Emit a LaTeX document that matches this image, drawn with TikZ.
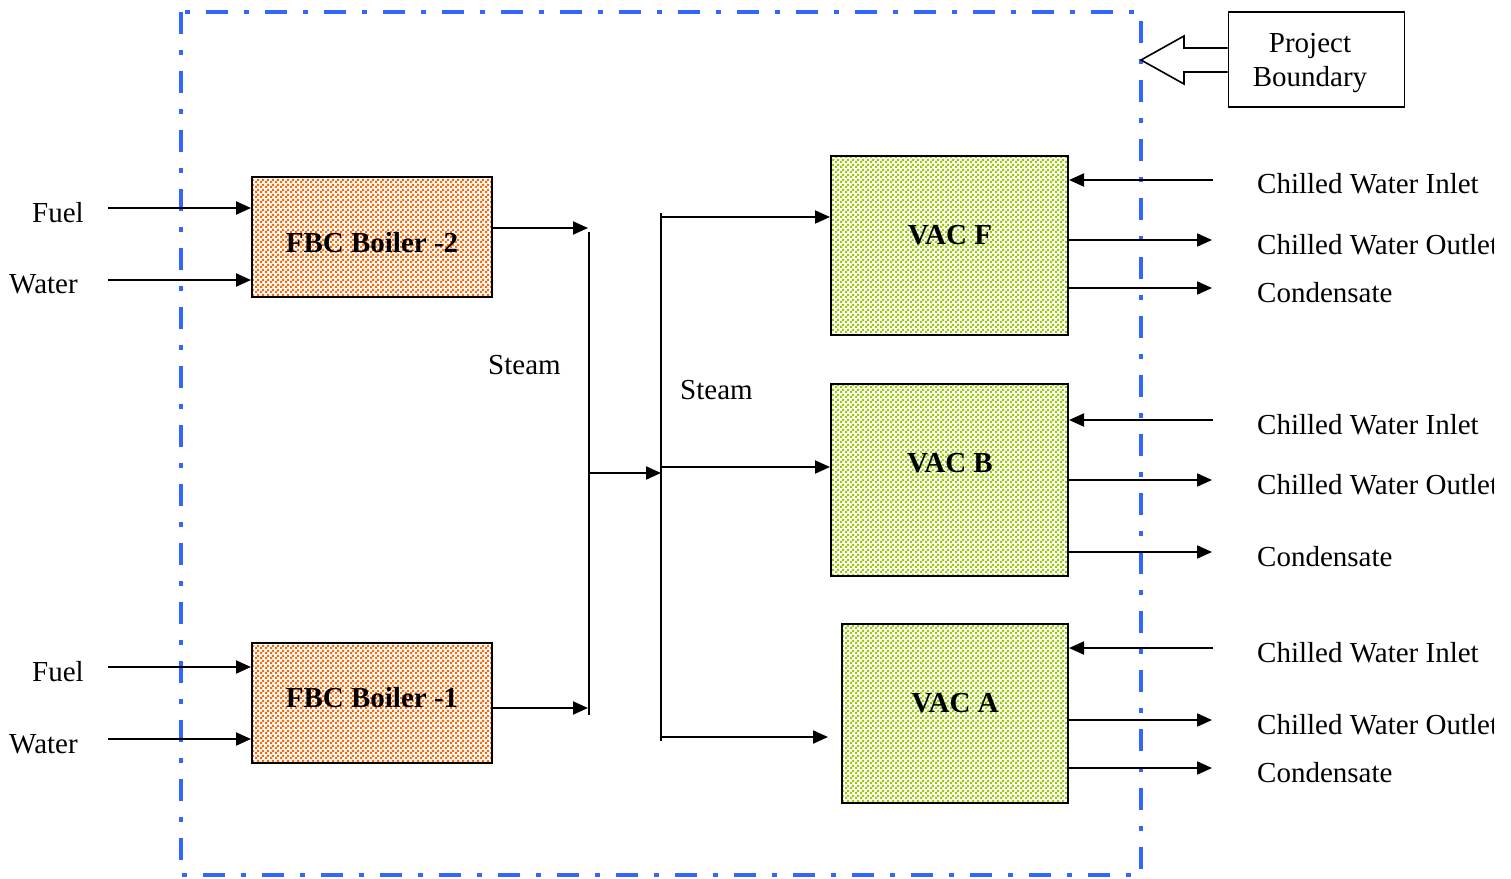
\documentclass[tikz,border=0pt]{standalone}
\usepackage{fontspec}
\setmainfont{Liberation Serif}
\usetikzlibrary{arrows.meta,patterns.meta}

\definecolor{boundblue}{HTML}{3366FF}
\definecolor{boilerorange}{HTML}{FF6600}
\definecolor{vacgreen}{HTML}{99CC00}

% fine two-colour checker used for the equipment boxes
\tikzdeclarepattern{
  name=finechecks,
  type=uncolored,
  bottom left={(0pt,0pt)},
  top right={(5pt,5pt)},
  tile size={(5pt,5pt)},
  code={
    \fill (0pt,0pt) rectangle (2.6pt,2.6pt);
    \fill (2.5pt,2.5pt) rectangle (5pt,5pt);
  }
}

\begin{document}
\begin{tikzpicture}[x=1pt,y=-1pt,
  every node/.style={inner sep=0pt, font=\fontsize{29}{34}\selectfont},
  boiler/.style={draw, line width=2pt, minimum width=240pt, minimum height=120pt,
    preaction={fill=white}, pattern=finechecks, pattern color=boilerorange},
  vac/.style={draw, line width=2pt,
    preaction={fill=white}, pattern=finechecks, pattern color=vacgreen},
  boxlabel/.style={anchor=base, font=\fontsize{29}{34}\selectfont\bfseries},
  txt/.style={anchor=base west},
  flow/.style={line width=2pt, -{Triangle[length=15pt,width=13pt]}},
  pipe/.style={line width=2pt},
  boundary/.style={draw=boundblue, line width=4pt,
    dash pattern=on 22pt off 16pt on 5pt off 16pt},
  callout/.style={draw, line width=1.6pt}
]
\useasboundingbox (0,0) rectangle (1511,878);

% project boundary
\draw[boundary] (181,12) rectangle (1141,875);

% boilers
\node[boiler] (b2) at (372,237) {};
\node[boxlabel] (b2t) at (372,252) {FBC Boiler -2};
\node[boiler] (b1) at (372,703) {};
\node[boxlabel] (b1t) at (372,707) {FBC Boiler -1};

% vapour absorption chillers
\node[vac, minimum width=237pt, minimum height=179pt] (vf) at (949.5,245.5) {};
\node[boxlabel] (vft) at (950,244) {VAC F};
\node[vac, minimum width=237pt, minimum height=192pt] (vb) at (949.5,480) {};
\node[boxlabel] (vbt) at (950,472) {VAC B};
\node[vac, minimum width=226pt, minimum height=179pt] (va) at (955,713.5) {};
\node[boxlabel] (vat) at (955,712) {VAC A};

% boiler inputs
\node[txt] (fuel2) at (32,222) {Fuel};
\node[txt] (water2) at (9,293) {Water};
\node[txt] (fuel1) at (32,681) {Fuel};
\node[txt] (water1) at (9,753) {Water};
\coordinate (f2s) at (108,208);
\coordinate (w2s) at (108,280);
\coordinate (f1s) at (108,667);
\coordinate (w1s) at (108,739);
\draw[flow] (f2s) -- (f2s -| b2.west);
\draw[flow] (w2s) -- (w2s -| b2.west);
\draw[flow] (f1s) -- (f1s -| b1.west);
\draw[flow] (w1s) -- (w1s -| b1.west);

% steam headers
\coordinate (h1top) at (589,232);
\coordinate (h1bot) at (589,715);
\coordinate (h1mid) at (589,473);
\coordinate (h2top) at (661,213);
\coordinate (h2bot) at (661,741);
\draw[pipe] (h1top) -- (h1bot);
\draw[pipe] (h2top) -- (h2bot);
\draw[flow] (b2.east |- 0,228) -- (588,228);
\draw[flow] (b1.east |- 0,708) -- (588,708);
\draw[flow] (h1mid) -- (h1mid -| h2top);
\node[txt] (steam1) at (488,374) {Steam};
\node[txt] (steam2) at (680,399) {Steam};

% steam to chillers
\coordinate (sa) at (828,737);
\draw[flow] (h2top |- 0,217) -- (vf.west |- 0,217);
\draw[flow] (h2top |- 0,467) -- (vb.west |- 0,467);
\draw[flow] (h2top |- sa) -- (sa);

% chilled water and condensate
\foreach \vname/\yi/\yo/\yc in {vf/180/240/288, vb/420/480/552, va/648/720/768}{
  \coordinate (\vname in) at (1213,\yi);
  \coordinate (\vname out) at (1212,\yo);
  \coordinate (\vname cond) at (1212,\yc);
  \draw[flow] (\vname in) -- (\vname in -| \vname.east);
  \draw[flow] (\vname out -| \vname.east) -- (\vname out);
  \draw[flow] (\vname cond -| \vname.east) -- (\vname cond);
}
\begin{scope}
  \clip (0,0) rectangle (1493,878);
  \node[txt] (vfi) at (1257,193) {Chilled Water Inlet};
  \node[txt] (vfo) at (1257,254) {Chilled Water Outlet};
  \node[txt] (vfc) at (1257,302) {Condensate};
  \node[txt] (vbi) at (1257,434) {Chilled Water Inlet};
  \node[txt] (vbo) at (1257,494) {Chilled Water Outlet};
  \node[txt] (vbc) at (1257,566) {Condensate};
  \node[txt] (vai) at (1257,662) {Chilled Water Inlet};
  \node[txt] (vao) at (1257,734) {Chilled Water Outlet};
  \node[txt] (vac) at (1257,782) {Condensate};
\end{scope}

% boundary callout
\node[callout, minimum width=176pt, minimum height=95pt] (pb) at (1316.5,59.5) {};
\node[anchor=base] (pbt1) at (1310,52) {Project};
\node[anchor=base] (pbt2) at (1310,86) {Boundary};
\draw[callout, line join=miter] (pb.west |- 0,48) -- (1184,48) -- (1184,36) -- (1141,60)
  -- (1184,84) -- (1184,72) -- (pb.west |- 0,72);
\end{tikzpicture}
\end{document}
